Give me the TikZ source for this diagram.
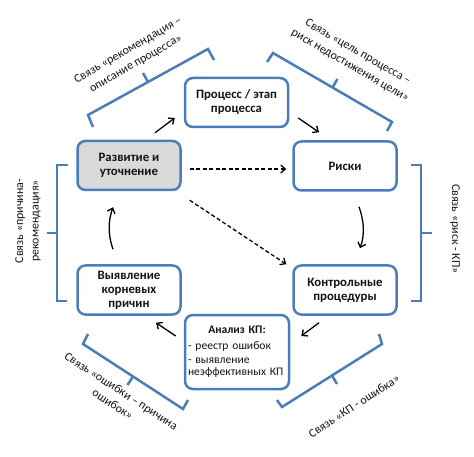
\documentclass[tikz,border=0pt]{standalone}
\usepackage{fontspec}
\setmainfont{Carlito}
\usetikzlibrary{arrows.meta}
\definecolor{boxblue}{HTML}{4A7EBB}
\definecolor{fillgray}{HTML}{D9D9D9}
\definecolor{txt}{HTML}{141414}
\begin{document}
\begin{tikzpicture}[x=1pt,y=-1pt,
  box/.style={draw=boxblue, line width=2.5pt, rounded corners=8pt, fill=white,
    align=center, inner sep=0pt, text=txt,
    font=\bfseries\fontsize{12.8}{14}\selectfont,
    minimum width=103pt, minimum height=49pt},
  arr/.style={line width=1.3pt, -{Straight Barb[length=4.5pt,width=8pt]}},
  darr/.style={arr, dash pattern=on 4pt off 2.5pt},
  brk/.style={draw=boxblue, line width=2.5pt},
  lab/.style={font=\fontsize{12}{15.5}\selectfont, align=center, text=txt, inner sep=1pt}]
\useasboundingbox (0,0) rectangle (474,457);

% boxes
\node[box] (proc) at (236.5,102.5) {Процесс / этап\\процесса};
\node[box, fill=fillgray] (dev) at (129,165.5) {Развитие и\\уточнение};
\node[box] (risk) at (345,166) {Риски};
\node[box] (root) at (129,290) {Выявление\\корневых\\причин};
\node[box] (ctrl) at (345,290) {Контрольные\\процедуры};
\node[box, minimum width=104pt, minimum height=74pt, text width=98pt, align=left,
  font=\fontsize{11.6}{12}\selectfont] (anal) at (237,352)
  {\centering\textbf{Анализ КП:}\par\vspace{4pt}\raggedright - реестр ошибок\par\vspace{2pt}- выявление\\неэффективных КП};

% arrows
\draw[arr] ([xshift=26pt,yshift=7pt]dev.north) -- ([xshift=-9pt,yshift=-15.5pt]proc.west);
\draw[arr] ([xshift=9pt,yshift=-15.5pt]proc.east) -- ([xshift=-26pt,yshift=8pt]risk.north);
\draw[arr] ([xshift=14pt,yshift=-15pt]risk.south) .. controls +(5,14) and +(5,-14) .. ([xshift=15pt,yshift=16pt]ctrl.north);
\draw[arr] ([xshift=-26pt,yshift=-7pt]ctrl.south) -- ([xshift=11pt,yshift=16pt]anal.east);
\draw[arr] ([xshift=-8pt,yshift=16pt]anal.west) -- ([xshift=27pt,yshift=-7pt]root.south);
\draw[arr] ([xshift=-16pt,yshift=15pt]root.north) .. controls +(-5,-14) and +(-5,14) .. ([xshift=-16pt,yshift=-16pt]dev.south);
\draw[darr] ([xshift=8pt,yshift=-3.5pt]dev.east) -- ([xshift=-6pt,yshift=-3pt]risk.west);
\draw[darr] ([xshift=8pt,yshift=-9pt]dev.south east) -- ([xshift=-6pt]ctrl.north west);

% brackets
\draw[brk] (93,127) -- (88,115) -- (208,49) -- (214,60);
\draw[brk] (148,82) -- (143,73);
\draw[brk] (267,62) -- (273,53) -- (392,122) -- (387,131);
\draw[brk] (332.5,87.5) -- (337.5,79);
\draw[brk] (411,165) -- (421,165) -- (421,301) -- (411,301);
\draw[brk] (421,233) -- (432,233);
\draw[brk] (68,165) -- (57,165) -- (57,301) -- (67,301);
\draw[brk] (57,233) -- (47,233);
\draw[brk] (88,334) -- (83,344) -- (183,409) -- (188,400);
\draw[brk] (133,376.5) -- (127.5,385);
\draw[brk] (277,400) -- (282,407) -- (382,344) -- (379,334);
\draw[brk] (332,375.5) -- (337,384);

% labels
\node[lab, rotate=30] (l1) at (132,57) {Связь «рекомендация –\\описание процесса»};
\node[lab, rotate=-30] (l2) at (354,59) {Связь «цель процесса –\\риск недостижения цели»};
\node[lab, rotate=-90] (l3) at (455,229) {Связь «риск - КП»};
\node[lab, rotate=90] (l4) at (28,221) {Связь «причина-\\рекомендация»};
\node[lab, rotate=-33] (l5) at (117,397.5) {Связь «ошибки – причина\\ошибок»};
\node[lab, rotate=33] (l6) at (354,406) {Связь «КП - ошибка»};
\end{tikzpicture}
\end{document}
